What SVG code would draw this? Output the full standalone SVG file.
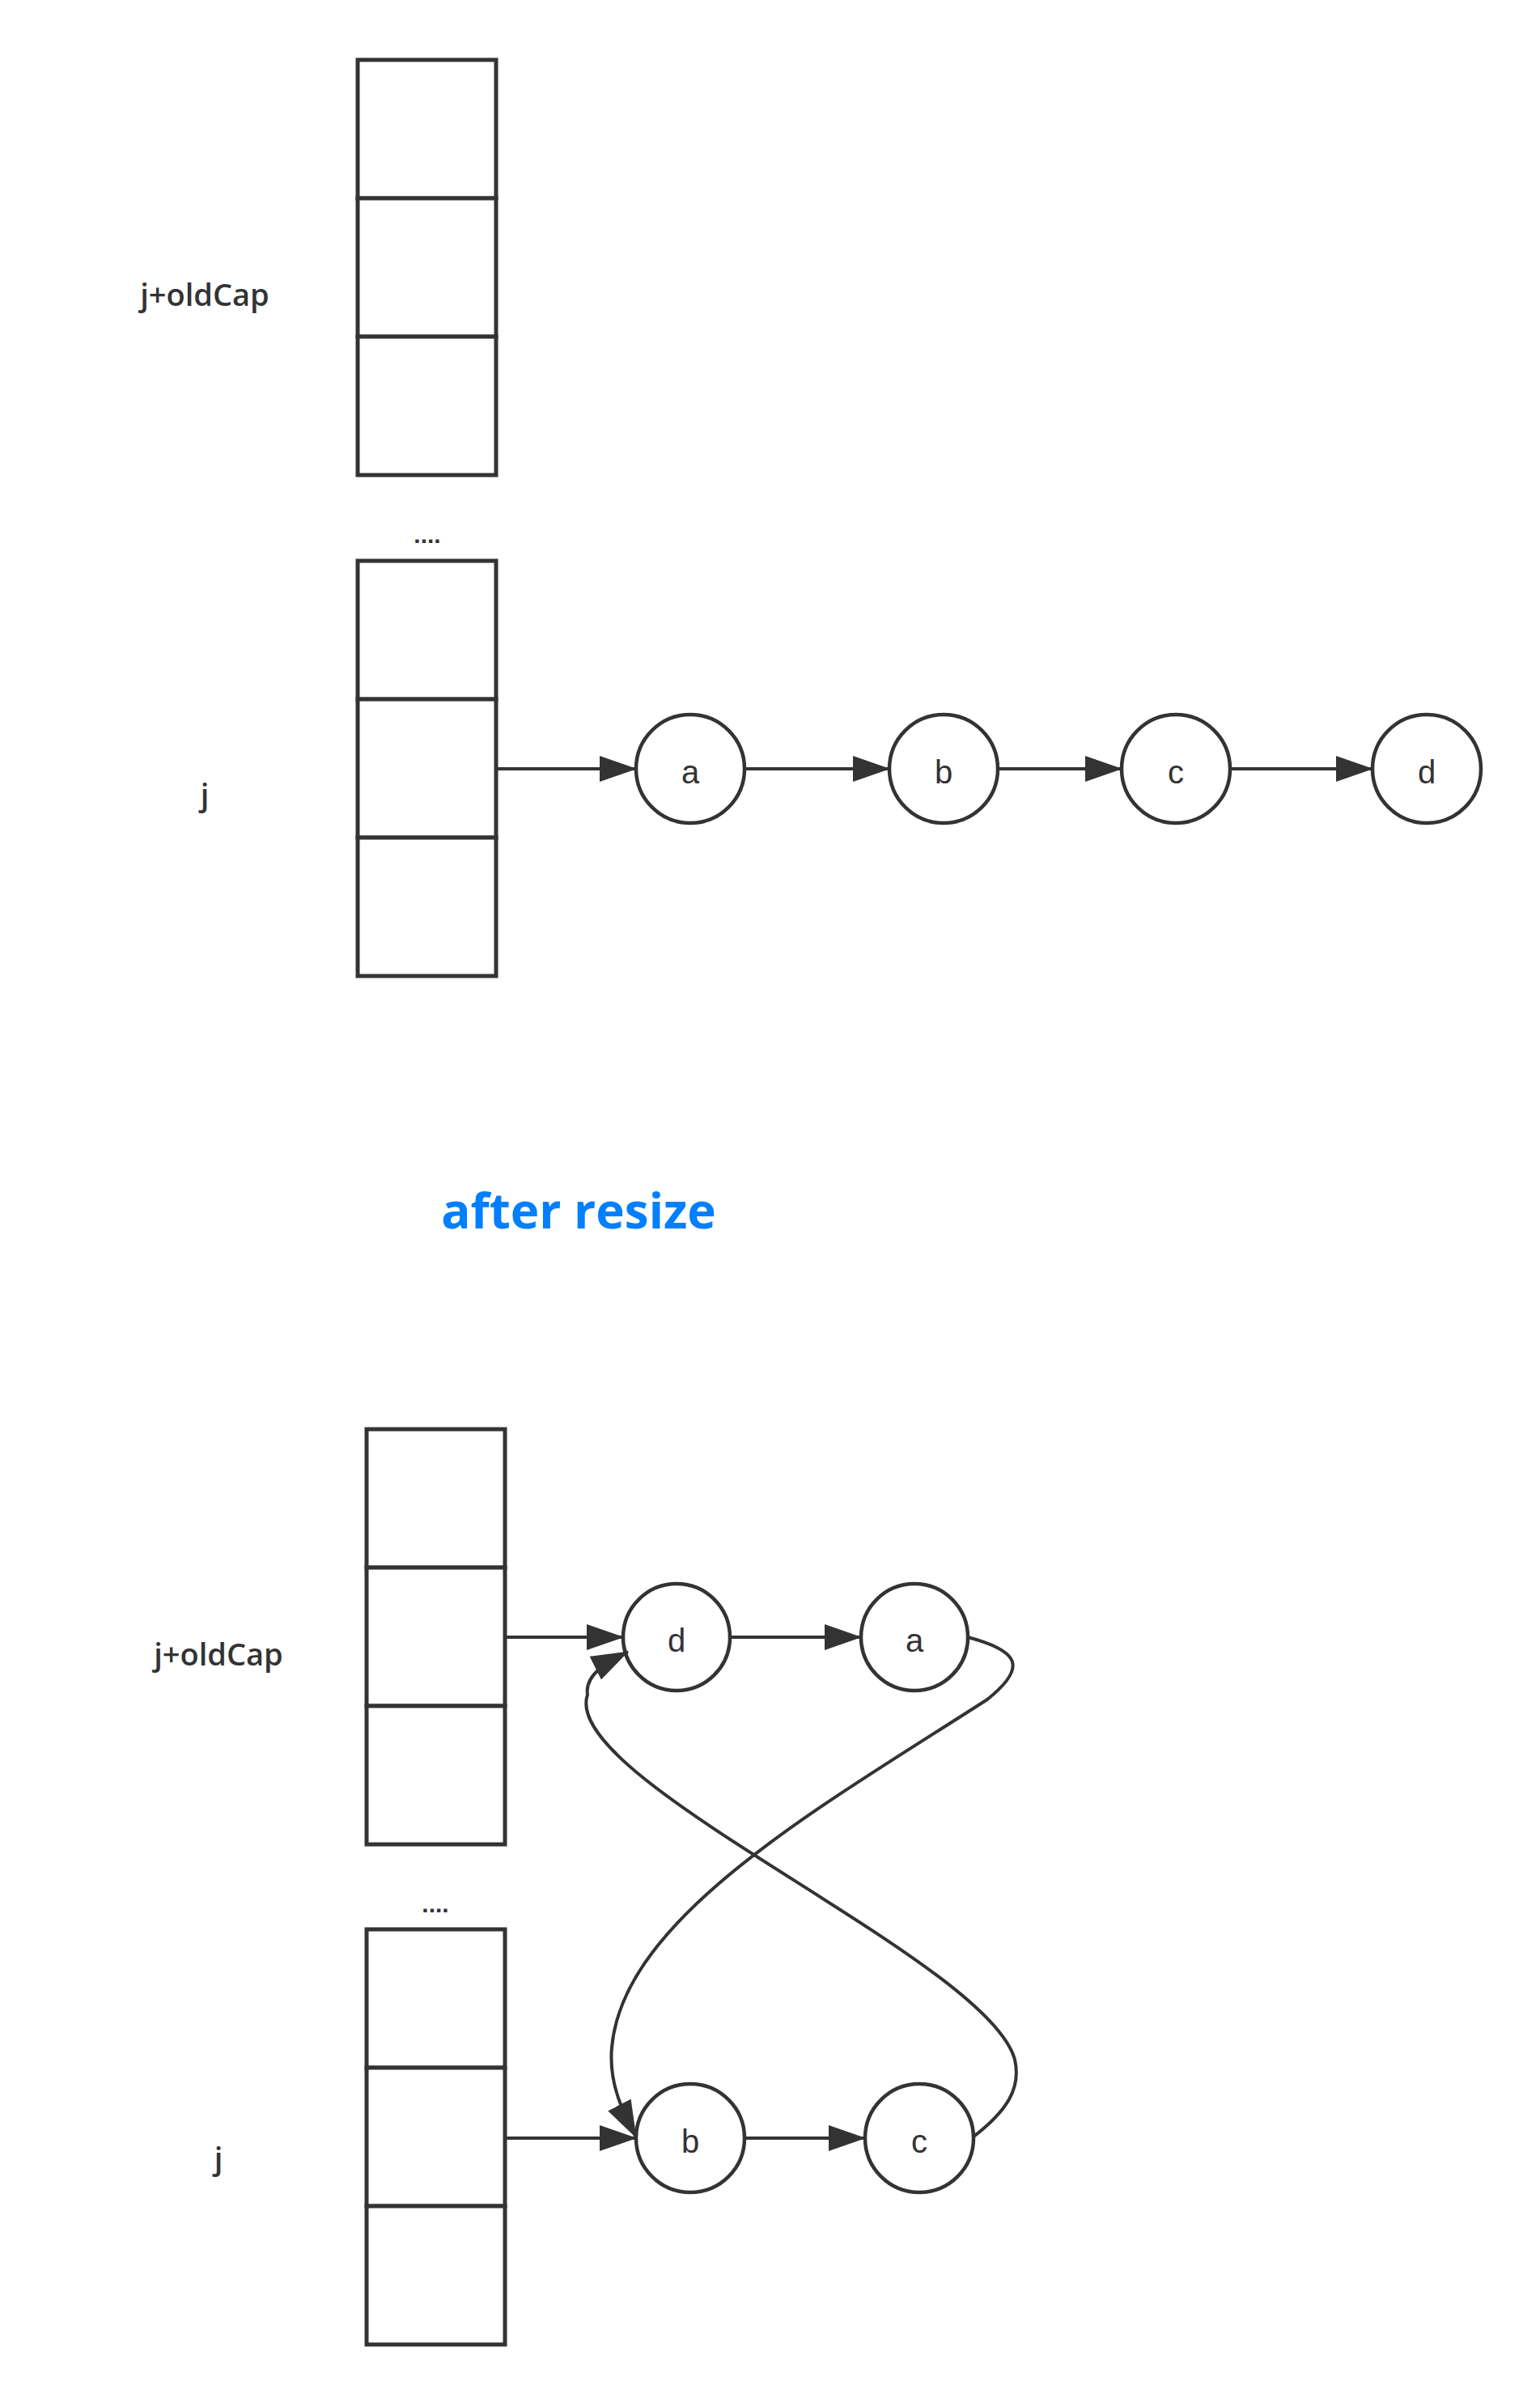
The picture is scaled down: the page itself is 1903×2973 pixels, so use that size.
<svg xmlns="http://www.w3.org/2000/svg" width="1903" height="2973" viewBox="0 0 1903 2973">
<style>
.cell{fill:#fff;stroke:#333;stroke-width:5}
.node{fill:#fff;stroke:#333;stroke-width:4.5}
.edge{fill:none;stroke:#333;stroke-width:4}
.lbl{font-family:"Liberation Sans",Arial,sans-serif;font-size:40px;fill:#333;text-anchor:middle}
.side{font-family:"Open Sans","Liberation Sans",sans-serif;font-size:38px;font-weight:600;fill:#333;text-anchor:middle}
.dots{font-family:"Liberation Sans",sans-serif;font-size:30px;font-weight:bold;fill:#333;text-anchor:middle}
.title{font-family:"Open Sans","Liberation Sans",sans-serif;font-size:60px;font-weight:bold;fill:#007FFF;text-anchor:middle}
</style>
<defs>
<marker id="arr" markerUnits="userSpaceOnUse" viewBox="0 0 46 32" markerWidth="46" markerHeight="32" refX="45" refY="16" orient="auto">
<path d="M0,0 L46,16 L0,32 Z" fill="#333"/>
</marker>
</defs>
<rect width="1903" height="2973" fill="#fff"/>

<g id="label-top-jold"><text class="side" x="253" y="378">j+oldCap</text></g>
<g id="label-top-j"><text class="side" x="253" y="996">j</text></g>
<g id="label-top-dots"><text class="dots" x="528" y="671">....</text></g>
<g id="table-top-1">
<rect class="cell" x="442" y="74" width="171" height="171"/>
<rect class="cell" x="442" y="245" width="171" height="171"/>
<rect class="cell" x="442" y="416" width="171" height="171"/>
</g>
<g id="table-top-2">
<rect class="cell" x="442" y="693" width="171" height="171"/>
<rect class="cell" x="442" y="864" width="171" height="171"/>
<rect class="cell" x="442" y="1035" width="171" height="171"/>
</g>
<g id="node-top-a"><circle class="node" cx="853" cy="950" r="67"/><text class="lbl" x="853" y="968">a</text></g>
<g id="node-top-b"><circle class="node" cx="1166" cy="950" r="67"/><text class="lbl" x="1166" y="968">b</text></g>
<g id="node-top-c"><circle class="node" cx="1453" cy="950" r="67"/><text class="lbl" x="1453" y="968">c</text></g>
<g id="node-top-d"><circle class="node" cx="1763" cy="950" r="67"/><text class="lbl" x="1763" y="968">d</text></g>

<g id="title"><text class="title" x="715" y="1518">after resize</text></g>

<g id="label-bot-jold"><text class="side" x="270" y="2058">j+oldCap</text></g>
<g id="label-bot-j"><text class="side" x="270" y="2681">j</text></g>
<g id="label-bot-dots"><text class="dots" x="538" y="2363">....</text></g>
<g id="table-bot-1">
<rect class="cell" x="453" y="1766" width="171" height="171"/>
<rect class="cell" x="453" y="1937" width="171" height="171"/>
<rect class="cell" x="453" y="2108" width="171" height="171"/>
</g>
<g id="table-bot-2">
<rect class="cell" x="453" y="2384" width="171" height="171"/>
<rect class="cell" x="453" y="2555" width="171" height="171"/>
<rect class="cell" x="453" y="2726" width="171" height="171"/>
</g>
<g id="node-bot-d"><circle class="node" cx="836" cy="2023" r="66"/><text class="lbl" x="836" y="2041">d</text></g>
<g id="node-bot-a"><circle class="node" cx="1130" cy="2023" r="66"/><text class="lbl" x="1130" y="2041">a</text></g>
<g id="node-bot-b"><circle class="node" cx="853" cy="2642" r="67"/><text class="lbl" x="853" y="2660">b</text></g>
<g id="node-bot-c"><circle class="node" cx="1136" cy="2642" r="67"/><text class="lbl" x="1136" y="2660">c</text></g>

<g id="connectors">
<path class="edge" d="M613,950 H786" marker-end="url(#arr)"/>
<path class="edge" d="M920,950 H1099" marker-end="url(#arr)"/>
<path class="edge" d="M1233,950 H1386" marker-end="url(#arr)"/>
<path class="edge" d="M1520,950 H1696" marker-end="url(#arr)"/>
<path class="edge" d="M624,2023 H770" marker-end="url(#arr)"/>
<path class="edge" d="M902,2023 H1064" marker-end="url(#arr)"/>
<path class="edge" d="M624,2642 H786" marker-end="url(#arr)"/>
<path class="edge" d="M920,2642 H1069" marker-end="url(#arr)"/>
<path class="edge" d="M1196,2023 C1260,2040 1270,2060 1220,2100 C1010,2235 770,2370 756,2530 C752,2575 770,2610 786,2641" marker-end="url(#arr)"/>
<path class="edge" d="M1202,2641 C1245,2608 1262,2580 1254,2545 C1220,2420 690,2200 726,2094 C722,2068 754,2052 776,2041" marker-end="url(#arr)"/>
</g>
</svg>
